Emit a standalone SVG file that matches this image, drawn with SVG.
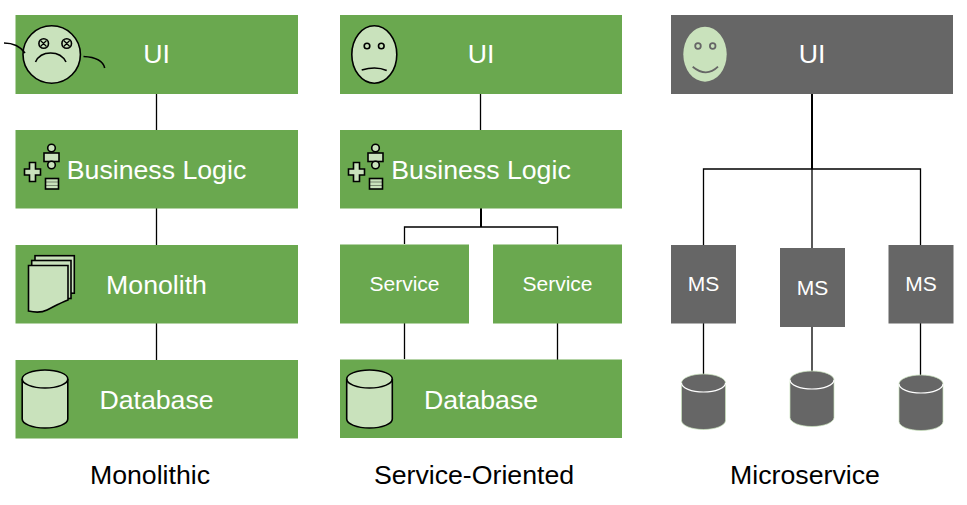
<svg xmlns="http://www.w3.org/2000/svg" width="967" height="505" viewBox="0 0 967 505">
<defs>
<style>
text{font-family:"Liberation Sans",Arial,sans-serif;text-anchor:middle}
.g{fill:#6aa84f}
.d{fill:#666666}
.t{fill:#fff;font-size:26.7px}
.s{fill:#fff;font-size:21px}
.c{fill:#000;font-size:26.7px}
.ic{fill:#c9e2bc;stroke:#000;stroke-width:1.6}
.ln{fill:none;stroke:#000;stroke-width:1.6}
.pl{fill:none;stroke:#666;stroke-width:1.8}
.cn{fill:none;stroke:#000;stroke-width:1.3}
.cb{fill:none;stroke:#000;stroke-width:2}
</style>
<g id="ops">
<circle class="ic" cx="0" cy="-17" r="3.800"/>
<rect class="ic" x="-7.500" y="-12" width="15" height="8.500"/>
<circle class="ic" cx="0" cy="0" r="3.800"/>
<rect class="ic" x="-6" y="13.500" width="13" height="10.500"/>
<path d="M-5 17h11M-5 20.500h11" stroke="#000" stroke-width=".8" stroke-dasharray="1 1"/>
</g>
<path id="plus" class="ic" d="M-3-9.500h6v6.500h5v6h-5v6.500h-6v-6.500h-5v-6h5z"/>
<g id="cyl">
<path class="ic" d="M-22.800-21v40c0 5 10.200 9 22.800 9s22.800-4 22.800-9v-40c0-5-10.200-9-22.800-9s-22.800 4-22.800 9z"/>
<path class="ln" d="M-22.800-21c0 5 10.200 9 22.800 9s22.800-4 22.800-9"/>
</g>
<g id="dcyl">
<path d="M-22-19v37.500c0 5 10 9 22 9s22-4 22-9v-37.500c0-5-10-9-22-9s-22 4-22 9z" fill="#666" stroke="#c9e2bc" stroke-width=".7"/>
<path d="M-22-19c0 5 10 9 22 9s22-4 22-9" fill="none" stroke="#fff" stroke-width="1.200"/>
</g>
</defs>
<rect width="967" height="505" fill="#fff"/>
<g id="connectors">
<path class="cn" d="M156.500 94V130M156.500 208V245M156.500 323V360"/>
<path class="cn" d="M480.500 94V130"/>
<path class="cb" d="M481 208V227"/>
<path class="cn" d="M404.500 244V227H557.500V244M404.500 323V359M557.500 323V360"/>
<path class="cb" d="M812 94V169"/>
<path class="cn" d="M703.500 245V169H920.500V245M812 169V248M703.500 323V374M812 327V371M920.500 323V375"/>
</g>
<g id="mono-ui">
<rect class="g" x="15.500" y="15" width="282.500" height="79"/>
<text class="t" x="156.500" y="63">UI</text>
<circle class="ic" cx="51.700" cy="54.500" r="28.700"/>
<path class="ln" d="M4 43C14 43 20 46 25 53M83.500 56.500C94 57 103 60 104.700 68M35.500 62C41 50 60 50 66 62"/>
<circle class="ln" cx="43.700" cy="43.500" r="4.800"/><circle class="ln" cx="66.700" cy="43.500" r="4.800"/>
<path class="ln" d="M40.500 40.500l6 6M46.500 40.500l-6 6M63.700 40.500l6 6M69.700 40.500l-6 6" style="stroke-width:1.200"/>
</g>
<g id="mono-logic">
<rect class="g" x="15.500" y="130" width="282.500" height="78.500"/>
<text class="t" x="156.500" y="179">Business Logic</text>
<use href="#plus" x="32.500" y="172"/>
<use href="#ops" x="51.500" y="165"/>
</g>
<g id="mono-monolith">
<rect class="g" x="15.500" y="245" width="282.500" height="78.500"/>
<text class="t" x="156.500" y="294">Monolith</text>
<rect class="ic" x="35" y="255.700" width="39.300" height="37.500"/>
<rect class="ic" x="31.700" y="260.500" width="39.300" height="38"/>
<path class="ic" d="M28.500 265.500H68V300C60 303 55 306 47 310C42 312.500 35 312.500 28.500 311z"/>
</g>
<g id="mono-db">
<rect class="g" x="15.500" y="360" width="282.500" height="78.500"/>
<text class="t" x="156.500" y="409">Database</text>
<use href="#cyl" x="45" y="400"/>
</g>
<g id="soa-ui">
<rect class="g" x="340" y="15" width="282" height="79"/>
<text class="t" x="481" y="63">UI</text>
<ellipse class="ic" cx="374.300" cy="54.500" rx="22.500" ry="28.800"/>
<circle class="ln" cx="367" cy="46" r="2.800"/><circle class="ln" cx="381.300" cy="46" r="2.800"/>
<path class="ln" d="M361.700 70C370 67.500 380 67.500 386.700 70.500"/>
</g>
<g id="soa-logic">
<rect class="g" x="340" y="130" width="282" height="78.500"/>
<text class="t" x="481" y="179">Business Logic</text>
<use href="#plus" x="356.500" y="172"/>
<use href="#ops" x="375.500" y="165"/>
</g>
<g id="soa-service1">
<rect class="g" x="340" y="244.500" width="129" height="79"/>
<text class="s" x="404.500" y="291">Service</text>
</g>
<g id="soa-service2">
<rect class="g" x="493" y="244.500" width="129" height="79"/>
<text class="s" x="557.500" y="291">Service</text>
</g>
<g id="soa-db">
<rect class="g" x="340" y="359.500" width="282" height="78.500"/>
<text class="t" x="481" y="409">Database</text>
<use href="#cyl" x="369.500" y="400"/>
</g>
<g id="ms-ui">
<rect class="d" x="671" y="15" width="282" height="79"/>
<text class="t" x="812" y="63">UI</text>
<ellipse cx="705" cy="54.200" rx="21.700" ry="27.500" fill="#c9e2bc"/>
<circle class="pl" cx="698" cy="46" r="2.800"/><circle class="pl" cx="712.700" cy="46" r="2.800"/>
<path class="pl" d="M692.700 66.700C702 74.500 710 74.500 718 66.700"/>
</g>
<g id="ms-1">
<rect class="d" x="671" y="245" width="65" height="78.500"/>
<text class="s" x="703.500" y="291">MS</text>
</g>
<g id="ms-2">
<rect class="d" x="780" y="248" width="65" height="79"/>
<text class="s" x="812.500" y="295">MS</text>
</g>
<g id="ms-3">
<rect class="d" x="888.500" y="245" width="65" height="78.500"/>
<text class="s" x="921" y="291">MS</text>
</g>
<g id="ms-db1"><use href="#dcyl" x="703.500" y="402"/></g>
<g id="ms-db2"><use href="#dcyl" x="812" y="399"/></g>
<g id="ms-db3"><use href="#dcyl" x="921" y="403"/></g>
<g id="captions">
<text class="c" x="150" y="484">Monolithic</text>
<text class="c" x="474" y="484">Service-Oriented</text>
<text class="c" x="805" y="484">Microservice</text>
</g>
</svg>
